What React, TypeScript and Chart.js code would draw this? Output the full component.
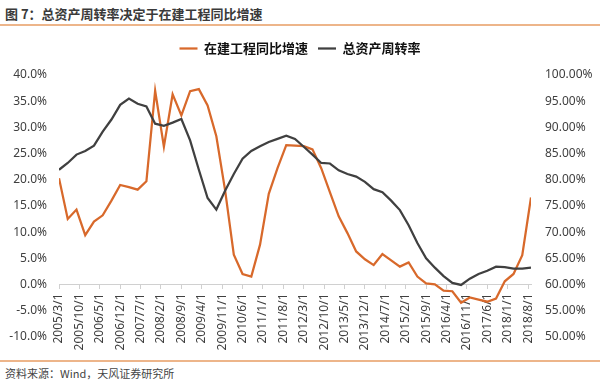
import { useEffect, useRef } from 'react';
import { Chart, registerables } from 'chart.js';

Chart.register(...registerables);

// Quarter-end observation dates
const QUARTERS = [
  '2005/3', '2005/6', '2005/9', '2005/12',
  '2006/3', '2006/6', '2006/9', '2006/12',
  '2007/3', '2007/6', '2007/9', '2007/12',
  '2008/3', '2008/6', '2008/9', '2008/12',
  '2009/3', '2009/6', '2009/9', '2009/12',
  '2010/3', '2010/6', '2010/9', '2010/12',
  '2011/3', '2011/6', '2011/9', '2011/12',
  '2012/3', '2012/6', '2012/9', '2012/12',
  '2013/3', '2013/6', '2013/9', '2013/12',
  '2014/3', '2014/6', '2014/9', '2014/12',
  '2015/3', '2015/6', '2015/9', '2015/12',
  '2016/3', '2016/6', '2016/9', '2016/12',
  '2017/3', '2017/6', '2017/9', '2017/12',
  '2018/3', '2018/6', '2018/9',
];

// 在建工程同比增速 (%), left axis
const CIP_GROWTH = [
  20.3, 12.5, 14.3, 9.4,
  12.0, 13.2, 16.0, 19.0,
  18.6, 18.1, 19.7, 37.0,
  26.3, 36.3, 32.3, 36.9,
  37.3, 34.2, 28.3, 18.0,
  5.7, 2.0, 1.5, 7.6,
  17.3, 22.2, 26.6, 26.5,
  26.4, 25.8, 22.2, 17.6,
  13.0, 9.8, 6.3, 4.8,
  3.7, 5.8, 4.6, 3.4,
  4.2, 1.5, 0.2, 0.0,
  -1.2, -1.3, -3.5, -2.5,
  -2.9, -3.3, -2.7, 0.6,
  2.0, 5.6, 16.6,
];

// 总资产周转率 (%), right axis
const ASSET_TURNOVER = [
  81.9, 83.2, 84.8, 85.5,
  86.5, 89.2, 91.5, 94.3,
  95.5, 94.5, 94.0, 90.7,
  90.3, 90.9, 91.6, 87.5,
  81.9, 76.5, 74.3, 77.9,
  81.1, 84.0, 85.5, 86.4,
  87.2, 87.8, 88.4, 87.8,
  86.3, 84.8, 83.2, 83.1,
  81.8, 81.1, 80.6, 79.6,
  78.2, 77.6, 76.0, 74.2,
  71.3, 67.9, 65.0, 63.2,
  61.6, 60.3, 59.9, 61.1,
  62.0, 62.6, 63.4, 63.3,
  63.0, 63.0, 63.2,
];

// X-axis tick labels (every 7 months)
const TICK_LABELS = [
  '2005/3/1', '2005/10/1', '2006/5/1', '2006/12/1', '2007/7/1', '2008/2/1',
  '2008/9/1', '2009/4/1', '2009/11/1', '2010/6/1', '2011/1/1', '2011/8/1',
  '2012/3/1', '2012/10/1', '2013/5/1', '2013/12/1', '2014/7/1', '2015/2/1',
  '2015/9/1', '2016/4/1', '2016/11/1', '2017/6/1', '2018/1/1', '2018/8/1',
];

const SERIES_NAMES = ['在建工程同比增速', '总资产周转率'];
const LEFT_RANGE = [-10, 40];
const RIGHT_RANGE = [50, 100];

const BASE_YEAR = 2005;
const BASE_MONTH = 3;
const monthIndex = (s: string) => {
  const [y, m] = s.split('/').map(Number);
  return (y - BASE_YEAR) * 12 + (m - BASE_MONTH);
};

const legendGap = {
  id: 'legendGap',
  beforeInit(chart: any) {
    const legend = chart.legend;
    if (!legend) return;
    const origFit = legend.fit;
    legend.fit = function () {
      origFit.call(this);
      this.height += 10;
    };
  },
};

export default function App() {
  const ref = useRef<HTMLCanvasElement | null>(null);

  useEffect(() => {
    if (!ref.current) return;
    const tickMap = new Map<number, string>();
    TICK_LABELS.forEach((l) => tickMap.set(monthIndex(l), l));
    const xs = QUARTERS.map(monthIndex);
    const xMax = xs[xs.length - 1];
    const tickFont = { family: "'Noto Sans', 'Noto Sans CJK SC', sans-serif", size: 12 };

    const chart = new Chart(ref.current, {
      type: 'line',
      data: {
        datasets: [
          {
            label: SERIES_NAMES[0],
            data: xs.map((x, i) => ({ x, y: CIP_GROWTH[i] })),
            borderColor: '#D8692B',
            backgroundColor: '#D8692B',
            borderWidth: 2.25,
            pointRadius: 0,
            tension: 0,
            yAxisID: 'y',
            xAxisID: 'x',
            order: 1,
          },
          {
            label: SERIES_NAMES[1],
            data: xs.map((x, i) => ({ x, y: ASSET_TURNOVER[i] })),
            borderColor: '#404040',
            backgroundColor: '#404040',
            borderWidth: 2.25,
            pointRadius: 0,
            tension: 0,
            yAxisID: 'y1',
            xAxisID: 'x',
            order: 0,
          },
        ],
      },
      plugins: [legendGap],
      options: {
        animation: false,
        responsive: false,
        maintainAspectRatio: false,
        events: [],
        layout: { padding: { left: 0, right: 0, top: 4, bottom: 12 } },
        plugins: {
          tooltip: { enabled: false },
          legend: {
            display: true,
            position: 'top',
            labels: {
              usePointStyle: true,
              pointStyle: 'line',
              pointStyleWidth: 18,
              padding: 10,
              color: '#111',
              font: { family: "'Noto Sans CJK SC', sans-serif", size: 13, weight: 'bold' },
              sort: (a: any, b: any) => a.datasetIndex - b.datasetIndex,
            },
          },
        },
        scales: {
          x: {
            type: 'linear',
            min: 0,
            max: xMax,
            position: { y: 0 } as any,
            afterBuildTicks: (scale: any) => {
              scale.ticks = TICK_LABELS.map((l) => ({ value: monthIndex(l) }));
            },
            afterFit: (scale: any) => {
              scale.paddingLeft = 0;
              scale.paddingRight = 0;
              scale.paddingTop = 0;
              scale.paddingBottom = 0;
            },
            grid: {
              display: true,
              drawOnChartArea: false,
              drawTicks: true,
              tickLength: 4,
              color: '#d0d0d0',
            },
            border: { display: true, color: '#d0d0d0', width: 1 },
            ticks: {
              autoSkip: false,
              minRotation: 90,
              maxRotation: 90,
              padding: 5,
              color: '#404040',
              font: tickFont,
              callback: (v: any) => tickMap.get(Number(v)) ?? '',
            },
          },
          y: {
            type: 'linear',
            position: 'left',
            min: LEFT_RANGE[0],
            max: LEFT_RANGE[1],
            afterFit: (scale: any) => {
              scale.width = 59;
            },
            grid: { display: false, drawTicks: false },
            border: { display: false },
            ticks: {
              stepSize: 5,
              padding: 12,
              color: '#404040',
              font: tickFont,
              callback: (v: any) => Number(v).toFixed(1) + '%',
            },
          },
          y1: {
            type: 'linear',
            position: 'right',
            min: RIGHT_RANGE[0],
            max: RIGHT_RANGE[1],
            afterFit: (scale: any) => {
              scale.width = 69;
            },
            grid: { display: false, drawTicks: false },
            border: { display: false },
            ticks: {
              stepSize: 5,
              padding: 14,
              color: '#404040',
              font: tickFont,
              callback: (v: any) => Number(v).toFixed(2) + '%',
            },
          },
        },
      },
    });
    return () => chart.destroy();
  }, []);

  return (
    <div
      style={{
        position: 'absolute',
        left: 0,
        top: 0,
        width: 600,
        height: 386,
        background: '#fff',
        overflow: 'hidden',
        fontFamily: "'Noto Sans CJK SC', sans-serif",
      }}
    >
      <div
        style={{
          position: 'absolute',
          left: 5,
          top: 5,
          fontSize: 13,
          lineHeight: '18px',
          fontWeight: 'bold',
          color: '#3a3a3a',
          whiteSpace: 'nowrap',
        }}
      >
        图 7：总资产周转率决定于在建工程同比增速
      </div>
      <div style={{ position: 'absolute', left: 0, top: 24, width: 600, height: 2, background: '#EDB58A' }} />
      <canvas
        ref={ref}
        width={600}
        height={330}
        style={{ position: 'absolute', left: 0, top: 28, width: 600, height: 330 }}
      />
      <div style={{ position: 'absolute', left: 0, top: 360, width: 600, height: 2, background: '#EDB58A' }} />
      <div
        style={{
          position: 'absolute',
          left: 5,
          top: 365,
          fontSize: 11,
          lineHeight: '16px',
          color: '#444',
          whiteSpace: 'nowrap',
        }}
      >
        资料来源：Wind，天风证券研究所
      </div>
    </div>
  );
}
